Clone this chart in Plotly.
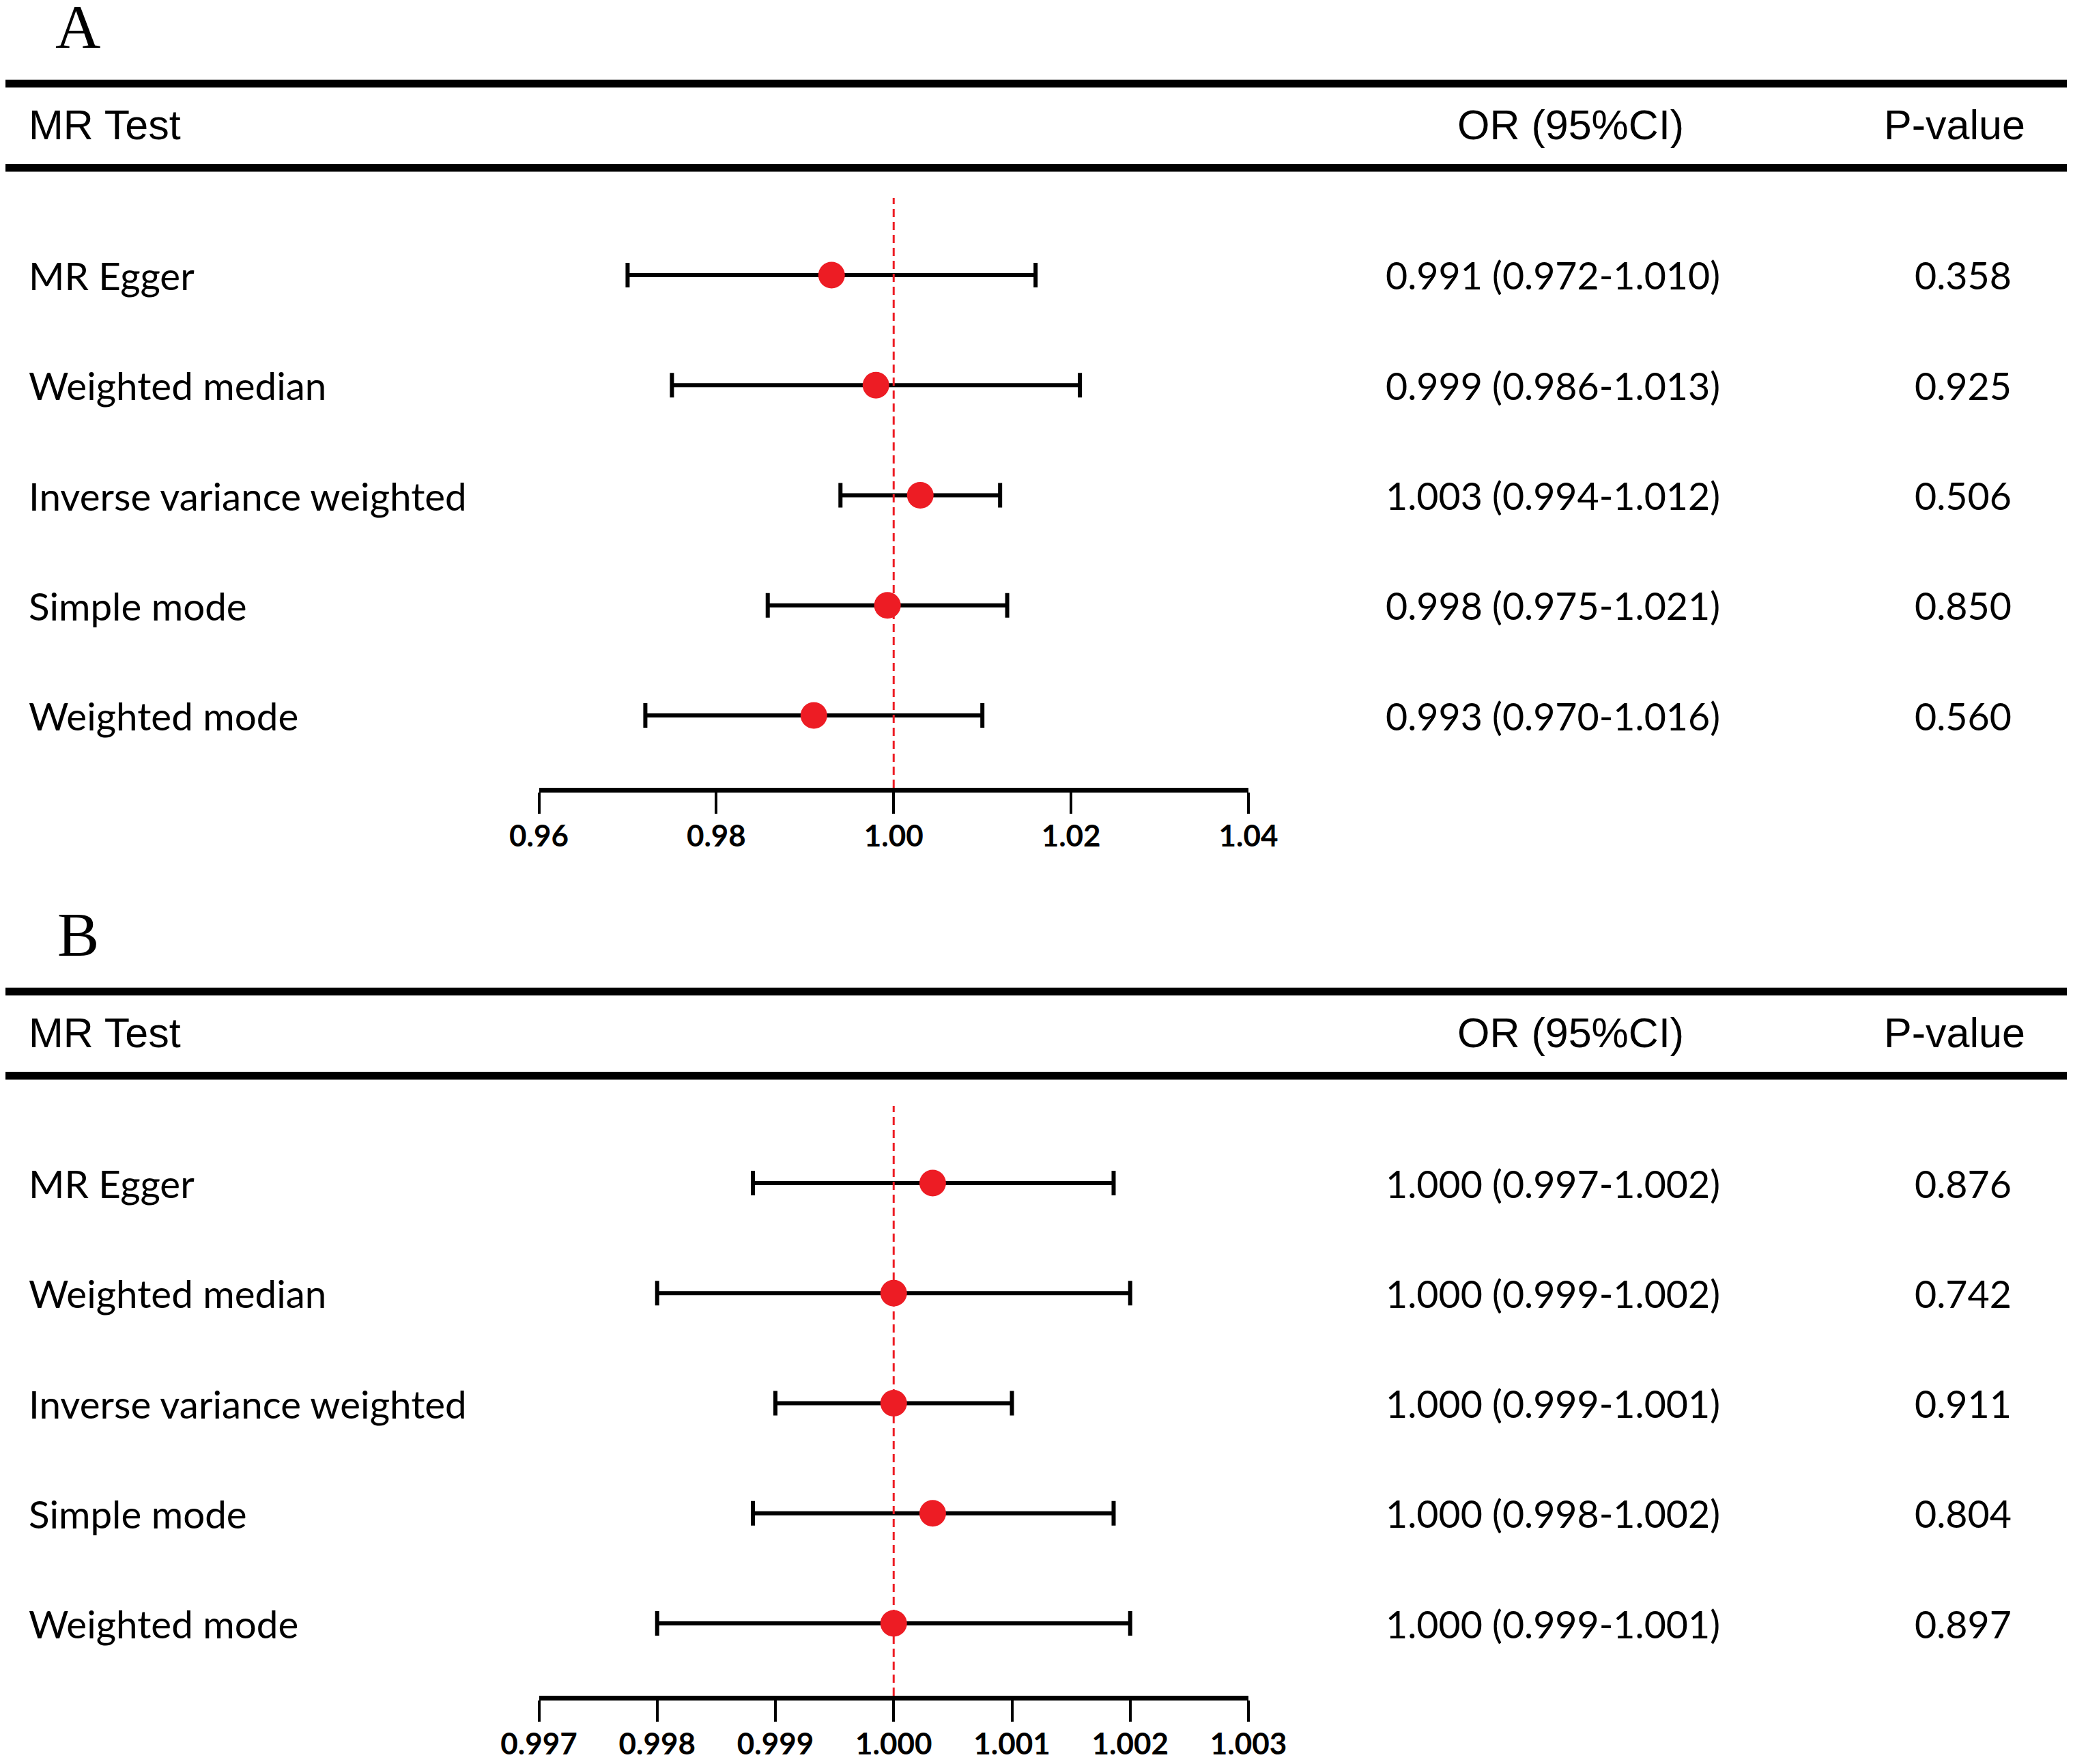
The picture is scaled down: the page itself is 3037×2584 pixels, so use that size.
import plotly.graph_objects as go

# the page body has an 8 px margin, so the figure is drawn 16 px smaller
# and all positions below are given in screenshot pixels
W, H = 3037, 2584
BODY = 8
FW, FH = W - 2 * BODY, H - 2 * BODY

methods = ["MR Egger", "Weighted median", "Inverse variance weighted",
           "Simple mode", "Weighted mode"]

a_or = [0.993, 0.998, 1.003, 0.9993, 0.991]
a_lo = [0.970, 0.975, 0.994, 0.9858, 0.972]
a_hi = [1.016, 1.021, 1.012, 1.0128, 1.010]
a_text = ["0.991 (0.972-1.010)", "0.999 (0.986-1.013)", "1.003 (0.994-1.012)",
          "0.998 (0.975-1.021)", "0.993 (0.970-1.016)"]
a_p = ["0.358", "0.925", "0.506", "0.850", "0.560"]
a_ticks = [0.96, 0.98, 1.00, 1.02, 1.04]
a_ticklabels = ["0.96", "0.98", "1.00", "1.02", "1.04"]

# panel B
b_or = [1.00033, 1.000, 1.000, 1.00033, 1.000]
b_lo = [0.99881, 0.998, 0.999, 0.99881, 0.998]
b_hi = [1.00186, 1.002, 1.001, 1.00186, 1.002]
b_text = ["1.000 (0.997-1.002)", "1.000 (0.999-1.002)", "1.000 (0.999-1.001)",
          "1.000 (0.998-1.002)", "1.000 (0.999-1.001)"]
b_p = ["0.876", "0.742", "0.911", "0.804", "0.897"]
b_ticks = [0.997, 0.998, 0.999, 1.000, 1.001, 1.002, 1.003]
b_ticklabels = ["0.997", "0.998", "0.999", "1.000", "1.001", "1.002", "1.003"]

RED = "#ED1C24"
SANS = "Lato"
ARIAL = "Liberation Sans, Arial"


def px(x):
    return (x - BODY) / FW


def py(y):
    return 1 - (y - BODY) / FH


fig = go.Figure()

panels = [
    ("A", a_or, a_lo, a_hi, a_text, a_p, a_ticks, a_ticklabels, 0),
    ("B", b_or, b_lo, b_hi, b_text, b_p, b_ticks, b_ticklabels, 1330),
]

annotations = []
shapes = []

for k, (letter, orv, lo, hi, txt, pv, ticks, ticklab, off) in enumerate(panels):
    xa = "x" if k == 0 else "x2"
    ya = "y" if k == 0 else "y2"
    fig.add_trace(go.Scatter(
        x=orv, y=methods, xaxis=xa, yaxis=ya, mode="markers",
        marker=dict(size=39, color=RED, line=dict(width=0)),
        error_x=dict(type="data", symmetric=False,
                     array=[h - o for h, o in zip(hi, orv)],
                     arrayminus=[o - l for o, l in zip(orv, lo)],
                     color="black", thickness=6, width=18),
        showlegend=False, hoverinfo="skip",
    ))

    axis_key = "xaxis" if k == 0 else "xaxis2"
    yaxis_key = "yaxis" if k == 0 else "yaxis2"
    fig.update_layout(**{
        axis_key: dict(
            domain=[px(789.5), px(1829)], range=[ticks[0], ticks[-1]],
            anchor=ya, showline=True, linewidth=7, linecolor="black",
            ticks="outside", ticklen=31, tickwidth=4, tickcolor="black",
            tickvals=ticks, ticktext=ticklab, showgrid=False, zeroline=False,
            automargin=False, ticklabelstandoff=-5,
            tickfont=dict(family=SANS, size=44, color="black", weight="bold"),
        ),
        yaxis_key: dict(
            domain=[py(1154 + off), py(290 + off)], range=[4.6574, -0.7008],
            type="category", categoryarray=methods, visible=False,
            anchor=xa, automargin=False,
        ),
    })

    # reference line at OR = 1
    shapes.append(dict(type="line", xref=xa, yref=ya + " domain",
                       x0=1, x1=1, y0=0, y1=1, layer="above",
                       line=dict(color=RED, width=3, dash="12px,7px")))

    # header rules
    for yy in (122.5 + off, 245.7 + off):
        shapes.append(dict(type="line", xref="paper", yref="paper",
                           x0=px(8), x1=px(3028), y0=py(yy), y1=py(yy),
                           line=dict(color="black", width=11.5)))

    annotations.append(dict(text=letter, xref="paper", yref="paper",
                            x=px(114), y=py(39 + off), showarrow=False,
                            xanchor="center", yanchor="middle",
                            font=dict(family="Liberation Serif, Times New Roman",
                                      size=92, color="black")))
    hy = py(183 + off)
    annotations.append(dict(text="MR Test", xref="paper", yref="paper",
                            x=px(40), y=hy, xanchor="left", yanchor="middle",
                            showarrow=False,
                            font=dict(family=ARIAL, size=61, color="black")))
    annotations.append(dict(text="OR (95%CI)", xref="paper", yref="paper",
                            x=px(2301), y=hy, xanchor="center", yanchor="middle",
                            showarrow=False,
                            font=dict(family=ARIAL, size=61, color="black")))
    annotations.append(dict(text="P-value", xref="paper", yref="paper",
                            x=px(2863), y=hy, xanchor="center", yanchor="middle",
                            showarrow=False,
                            font=dict(family=ARIAL, size=61, color="black")))

    for m, t, p in zip(methods, txt, pv):
        annotations.append(dict(text=m, xref="paper", yref=ya, x=px(40), y=m,
                                xanchor="left", yanchor="middle", showarrow=False,
                                font=dict(family=SANS, size=56.5, color="black")))
        annotations.append(dict(text=t, xref="paper", yref=ya, x=px(2275), y=m,
                                xanchor="center", yanchor="middle", showarrow=False,
                                font=dict(family=SANS, size=55.5, color="black")))
        annotations.append(dict(text=p, xref="paper", yref=ya, x=px(2949), y=m,
                                xanchor="right", yanchor="middle", showarrow=False,
                                font=dict(family=SANS, size=55.5, color="black")))

fig.update_layout(
    width=FW, height=FH,
    margin=dict(l=0, r=0, t=0, b=0, pad=0, autoexpand=False),
    paper_bgcolor="white", plot_bgcolor="white",
    shapes=shapes, annotations=annotations,
)

fig.write_html("out.html")
